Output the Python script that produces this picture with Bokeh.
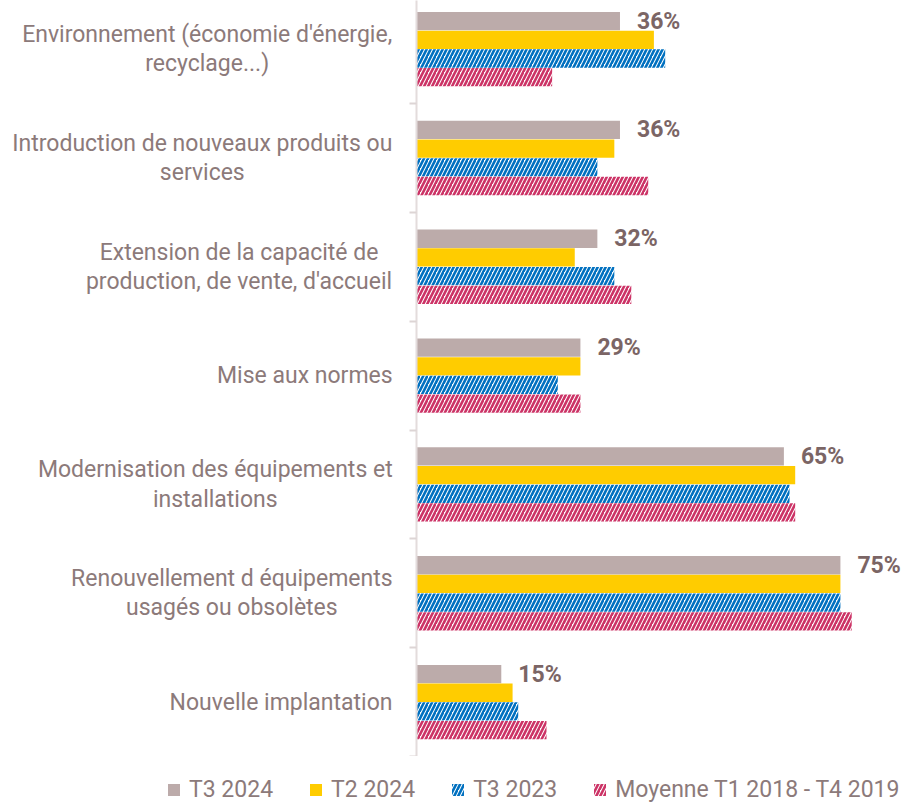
from bokeh.plotting import figure
from bokeh.models import Range1d, FixedTicker, ColumnDataSource, Legend, LegendItem
from bokeh.transform import dodge
from bokeh.layouts import row, column
from bokeh.embed import file_html
from bokeh.resources import INLINE
from bokeh.core.properties import value

# ---- data (bottom to top) ----
categories = [
    "Nouvelle implantation",
    "Renouvellement d équipements\nusagés ou obsolètes",
    "Modernisation des équipements et\ninstallations",
    "Mise aux normes",
    "Extension de la capacité de\nproduction, de vente, d'accueil",
    "Introduction de nouveaux produits ou\nservices",
    "Environnement (économie d'énergie,\nrecyclage...)",
]
t3_2024 = [15, 75, 65, 29, 32, 36, 36]
t2_2024 = [17, 75, 67, 29, 28, 35, 42]
t3_2023 = [18, 75, 66, 25, 35, 32, 44]
moyenne = [23, 77, 67, 29, 38, 41, 24]
series_names = ["T3 2024", "T2 2024", "T3 2023", "Moyenne T1 2018 - T4 2019"]

LABEL_COLOR = "#8C7A7A"
VALUE_COLOR = "#7B6565"
FONT = "Roboto"
CAT_SIZE = 23
STYLES = [
    dict(fill_color="#BCABAA", line_color=None),
    dict(fill_color="#FFCC00", line_color=None),
    dict(fill_color="white", line_color=None, hatch_pattern="/", hatch_color="#0070C0",
         hatch_scale=8, hatch_weight=2.6),
    dict(fill_color="white", line_color=None, hatch_pattern="/", hatch_color="#CC3366",
         hatch_scale=8, hatch_weight=2.6),
]

# approximate Roboto advance widths (em) used only to centre the wrapped labels
_W = {" ": .248, "a": .544, "b": .561, "c": .523, "d": .563, "e": .530, "é": .530, "è": .530,
      "f": .347, "g": .561, "h": .551, "i": .243, "j": .239, "k": .507, "l": .243, "m": .873,
      "n": .552, "o": .570, "p": .561, "q": .568, "r": .338, "s": .515, "t": .327, "u": .551,
      "v": .484, "w": .751, "x": .495, "y": .472, "z": .495, "'": .174, "(": .342, ")": .348,
      ",": .196, ".": .263, "E": .568, "I": .272, "M": .873, "N": .713, "R": .615}


def text_width(s, size):
    return sum(_W.get(ch, .55) for ch in s) * size


ypos = list(range(len(categories)))
src = ColumnDataSource(dict(
    y=ypos, t3_2024=t3_2024, t2_2024=t2_2024, t3_2023=t3_2023, moyenne=moyenne,
    label=[f"{v}%" for v in t3_2024],
))

PLOT_H = 756
LEFT_W = 396
yr = Range1d(-0.5, 6.447)

# ---- left panel: category labels ----
label_right = 392
lab_src = ColumnDataSource(dict(
    y=ypos, text=categories,
    x=[label_right - max(text_width(l, CAT_SIZE) for l in c.split("\n")) / 2 for c in categories],
))
pl = figure(width=LEFT_W, height=PLOT_H, output_backend="svg", toolbar_location=None,
            x_range=Range1d(0, LEFT_W), y_range=yr, x_axis_location=None, y_axis_location=None,
            min_border_left=0, min_border_right=0, min_border_top=0, min_border_bottom=0)
pl.outline_line_color = None
pl.grid.visible = False
pl.text(x="x", y="y", text="text", source=lab_src, text_align="center", text_baseline="middle",
        text_font=value(FONT), text_font_size=f"{CAT_SIZE}px", text_color=LABEL_COLOR,
        text_line_height=1.09)

# ---- main bar plot ----
p = figure(width=514, height=PLOT_H, output_backend="svg", toolbar_location=None,
           x_range=Range1d(0, 87.4), y_range=yr, x_axis_location=None,
           min_border_left=20, min_border_right=0, min_border_top=0, min_border_bottom=0)
p.outline_line_color = None
p.xgrid.visible = False
p.ygrid.visible = False

pitch = 0.1717
bh = 0.168
fields = ["t3_2024", "t2_2024", "t3_2023", "moyenne"]
offsets = [1.5 * pitch, 0.5 * pitch, -0.5 * pitch, -1.5 * pitch]
for f, off, st in zip(fields, offsets, STYLES):
    p.hbar(y=dodge("y", off, range=p.y_range), left=0, right=f, height=bh, source=src, **st)

p.text(x="t3_2024", y=dodge("y", 1.5 * pitch, range=p.y_range), text="label", source=src,
       x_offset=17, text_baseline="middle", text_align="left",
       text_font=value(FONT), text_font_style="bold", text_font_size="23px",
       text_color=VALUE_COLOR)

yax = p.yaxis[0]
yax.ticker = FixedTicker(ticks=[], minor_ticks=[i - 0.5 for i in range(len(categories) + 1)])
yax.major_tick_out = 0
yax.major_tick_in = 0
yax.minor_tick_out = 7
yax.minor_tick_in = 0
yax.minor_tick_line_color = "#DDD5D5"
yax.minor_tick_line_width = 2
yax.axis_line_color = "#E3DCDC"
yax.axis_line_width = 2

# ---- legend strip (zero-length proxy bars carry the legend swatches) ----
pg = figure(width=916, height=46, output_backend="svg", toolbar_location=None,
            x_range=Range1d(0, 1), y_range=Range1d(0, 1), x_axis_location=None,
            y_axis_location=None, min_border_left=0, min_border_right=0,
            min_border_top=0, min_border_bottom=0)
pg.outline_line_color = None
pg.grid.visible = False
proxy = ColumnDataSource(dict(y=[0.5], right=[0]))
leg_r = [pg.hbar(y="y", right="right", left=0, height=0.5, source=proxy, **st) for st in STYLES]
legend = Legend(items=[LegendItem(label=n, renderers=[r]) for n, r in zip(series_names, leg_r)],
                orientation="horizontal", location=(166, -1))
legend.label_text_font = FONT
legend.label_text_font_size = "23px"
legend.label_text_color = LABEL_COLOR
legend.glyph_width = 15
legend.glyph_height = 15
legend.label_standoff = 8
legend.spacing = 35
legend.padding = 0
legend.margin = 0
legend.border_line_color = None
legend.background_fill_alpha = 0
pg.add_layout(legend, "center")

layout = column(row(pl, p, spacing=0), pg, spacing=0)
open("out.html", "w").write(file_html(layout, INLINE))
